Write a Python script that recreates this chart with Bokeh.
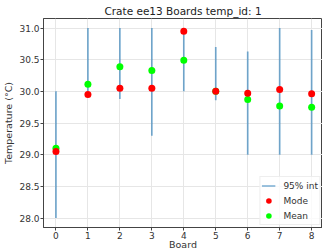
from bokeh.plotting import figure
from bokeh.models import ColumnDataSource, Legend, LegendItem, FixedTicker, NumeralTickFormatter, Range1d
from bokeh.embed import file_html
from bokeh.resources import INLINE

boards = [0, 1, 2, 3, 4, 5, 6, 7, 8]
int_low = [28.0, 30.0, 29.88, 29.30, 30.0, 29.86, 29.0, 29.0, 29.0]
int_high = [30.0, 31.0, 31.0, 31.0, 31.0, 30.70, 30.63, 31.0, 30.97]
mode_vals = [29.05, 29.95, 30.05, 30.05, 30.95, 30.0, 29.97, 30.03, 29.96]
mean_vals = [29.10, 30.11, 30.39, 30.33, 30.49, 30.0, 29.87, 29.77, 29.75]
y_ticks = [28.0, 28.5, 29.0, 29.5, 30.0, 30.5, 31.0]

src = ColumnDataSource(dict(x=boards, lo=int_low, hi=int_high, mode=mode_vals, mean=mean_vals))

FONT = "DejaVu Sans"
p = figure(width=322, height=252, output_backend="svg", toolbar_location=None,
           x_range=Range1d(-0.39, 8.34), y_range=Range1d(27.85, 31.15),
           title="Crate ee13 Boards temp_id: 1",
           min_border_left=0, min_border_right=0, min_border_top=0, min_border_bottom=0)
p.title.align = "center"
p.title.text_font = FONT
p.title.text_font_size = "10.5px"
p.title.text_font_style = "normal"
p.title.text_color = "#222222"
p.title.standoff = 4
p.title.offset = 0

p.outline_line_color = "#444444"
p.outline_line_width = 1

for ax in (p.xaxis[0], p.yaxis[0]):
    ax.major_label_text_font = FONT
    ax.major_label_text_font_size = "9px"
    ax.major_label_text_color = "#333333"
    ax.axis_label_text_font = FONT
    ax.axis_label_text_font_size = "9.5px"
    ax.axis_label_text_font_style = "normal"
    ax.axis_label_text_color = "#333333"
    ax.axis_line_color = "#444444"
    ax.major_tick_line_color = "#444444"
    ax.major_tick_out = 3
    ax.major_tick_in = 0
    ax.minor_tick_line_color = None
    ax.major_label_standoff = 1

p.xaxis.axis_label = "Board"
p.yaxis.axis_label = "Temperature (°C)"
p.xaxis.axis_label_standoff = -3
p.yaxis.axis_label_standoff = 2
p.xaxis.ticker = FixedTicker(ticks=boards)
p.yaxis.ticker = FixedTicker(ticks=y_ticks)
p.yaxis.formatter = NumeralTickFormatter(format="0.0")

p.xgrid.grid_line_color = "#e6e6e6"
p.ygrid.grid_line_color = "#e6e6e6"
p.xgrid.ticker = FixedTicker(ticks=boards)
p.ygrid.ticker = FixedTicker(ticks=y_ticks)

r_int = p.segment(x0="x", y0="lo", x1="x", y1="hi", source=src,
                  line_color="#1f77b4", line_alpha=0.6, line_width=1.7)
r_mean = p.scatter(x="x", y="mean", source=src, size=7, fill_color="#00ff00",
                   line_color=None)
r_mode = p.scatter(x="x", y="mode", source=src, size=7, fill_color="#ff0000",
                   line_color=None)

legend = Legend(items=[LegendItem(label="95% int", renderers=[r_int]),
                       LegendItem(label="Mode", renderers=[r_mode]),
                       LegendItem(label="Mean", renderers=[r_mean])],
                location="bottom_right")
legend.label_text_font = FONT
legend.label_text_font_size = "9px"
legend.label_text_color = "#333333"
legend.glyph_width = 14
legend.glyph_height = 15
legend.label_height = 10
legend.label_standoff = 8
legend.spacing = -3
legend.padding = 1
legend.margin = 2
legend.border_line_color = "#dddddd"
legend.background_fill_alpha = 0.8
p.add_layout(legend)

open("out.html", "w").write(file_html(p, INLINE))
